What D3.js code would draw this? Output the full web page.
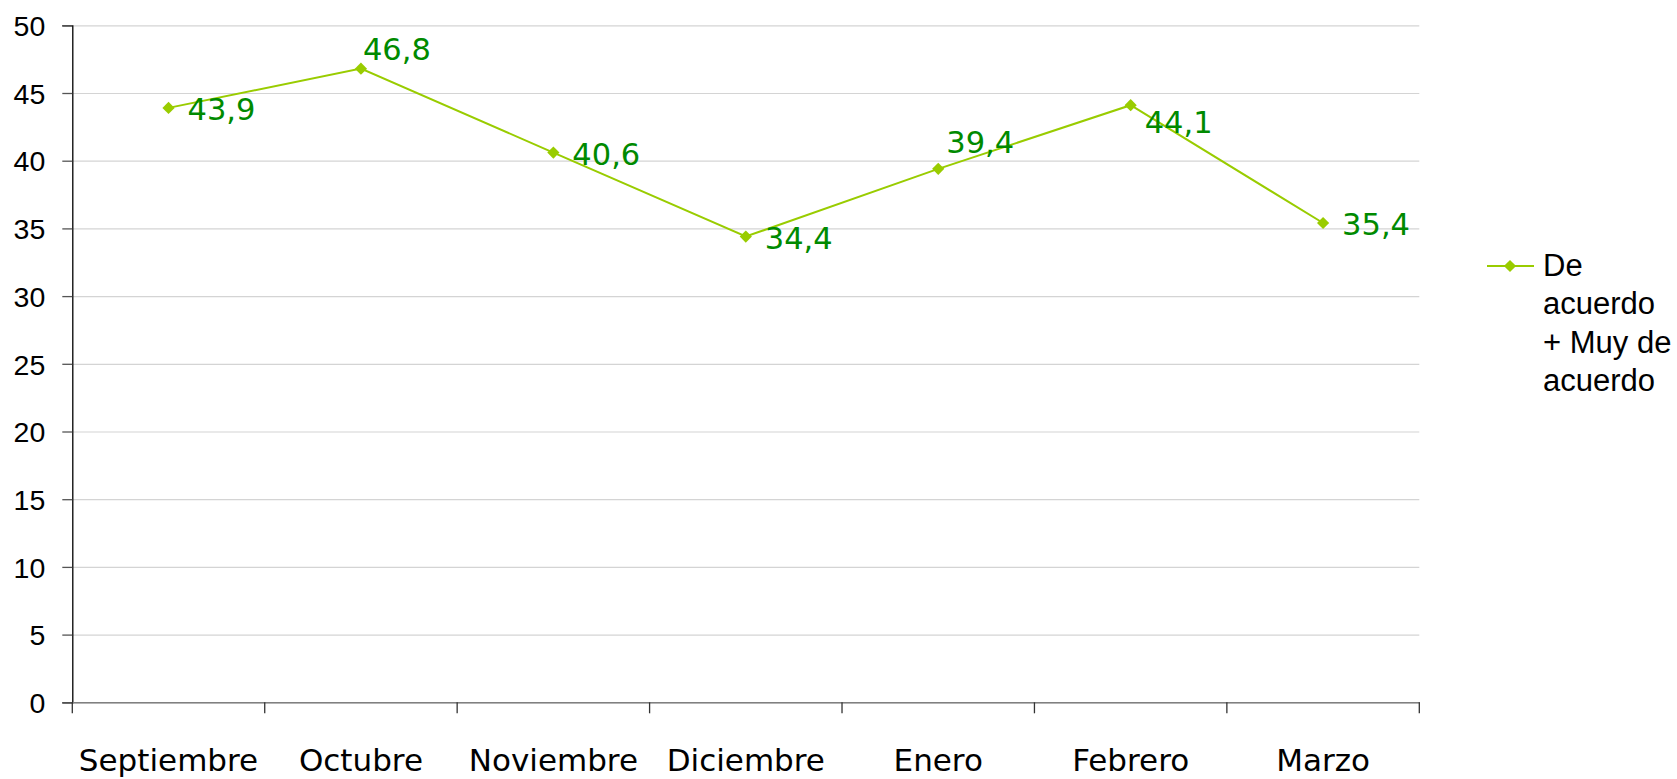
<!DOCTYPE html>
<html><head>
<meta charset="utf-8">
<title>De acuerdo + Muy de acuerdo</title>
<script src="https://d3js.org/d3.v7.min.js"></script>
<style>
  body { margin: 0; background: #fff; }
  svg text { font-family: "Liberation Sans", Arial, sans-serif; }
  svg text.wide { font-family: "DejaVu Sans", Verdana, sans-serif; }
  .gridlines line { stroke: #d4d4d4; stroke-width: 1.2; }
  .gridlines .domain { stroke: none; }
</style>
</head>
<body>
<svg id="chart" width="1677" height="779"></svg>
<script>

  // data
  const months = ["Septiembre", "Octubre", "Noviembre", "Diciembre", "Enero", "Febrero", "Marzo"];
  const values = [43.9, 46.8, 40.6, 34.4, 39.4, 44.1, 35.4];
  const yTicks = [0, 5, 10, 15, 20, 25, 30, 35, 40, 45, 50];
  const seriesName = ["De", "acuerdo", "+ Muy de", "acuerdo"];
  // where each data label sits relative to its point
  const labelPlace = ["right", "above", "right", "right", "aboveRight", "belowRight", "right"];

  const svg = d3.select("svg#chart");
  const margin = {top: 25.3, left: 72.3};
  const chartWidth = 1347;
  const chartHeight = 677;

  const lineColor = "#99cc00";
  const labelColor = "#008a00";

  let annotations = svg.append("g").attr("id", "annotations");
  let chartArea = svg.append("g").attr("id", "points")
                  .attr("transform", "translate(" + margin.left + "," + margin.top + ")");

  const xScale = d3.scaleBand().domain(months).range([0, chartWidth]);
  const yScale = d3.scaleLinear().domain([0, 50]).range([chartHeight, 0]);

  // horizontal gridlines
  let gridlines = d3.axisLeft(yScale).tickValues(yTicks).tickSize(-chartWidth).tickFormat("");
  annotations.append("g")
    .attr("class", "gridlines")
    .attr("transform", "translate(" + margin.left + "," + margin.top + ")")
    .call(gridlines);

  // Y axis
  let leftAxis = d3.axisLeft(yScale).tickValues(yTicks).tickSize(10).tickPadding(17);
  let yAxis = annotations.append("g")
    .attr("transform", "translate(" + margin.left + "," + margin.top + ")")
    .call(leftAxis);
  yAxis.select(".domain").attr("stroke", "#000").attr("stroke-width", 1.3);
  yAxis.selectAll(".tick line").attr("stroke", "#555").attr("stroke-width", 1.3);
  yAxis.selectAll("text")
    .attr("fill", "#000")
    .style("font-size", "28.5px")
    .attr("dy", "0.36em");

  // X axis
  let bottomAxis = d3.axisBottom(xScale).tickSize(0).tickPadding(0);
  let xAxis = annotations.append("g")
    .attr("transform", "translate(" + margin.left + "," + (margin.top + chartHeight) + ")")
    .call(bottomAxis);
  xAxis.select(".domain").attr("stroke", "#808080").attr("stroke-width", 1.5);
  xAxis.selectAll(".tick text")
    .attr("class", "wide")
    .attr("fill", "#000")
    .attr("y", 69)
    .attr("dy", 0)
    .style("font-size", "31px");
  // tick marks between categories
  const boundaries = d3.range(months.length + 1).map(i => i * xScale.bandwidth());
  xAxis.selectAll("line.sep")
    .data(boundaries)
    .join("line")
    .attr("class", "sep")
    .attr("x1", d => d).attr("x2", d => d)
    .attr("y1", 0).attr("y2", 11)
    .attr("stroke", "#333").attr("stroke-width", 1.3);

  // series line
  const cx = d => xScale(d.m) + xScale.bandwidth() / 2;
  const pts = months.map((m, i) => ({m: m, v: values[i], place: labelPlace[i]}));

  let line = d3.line().x(cx).y(d => yScale(d.v));
  chartArea.append("path")
    .datum(pts)
    .attr("d", line)
    .attr("fill", "none")
    .attr("stroke", lineColor)
    .attr("stroke-width", 2);

  const diamond = d3.symbol().type(d3.symbolDiamond2).size(95);
  chartArea.selectAll("path.marker")
    .data(pts)
    .join("path")
    .attr("class", "marker")
    .attr("d", diamond)
    .attr("transform", d => "translate(" + cx(d) + "," + yScale(d.v) + ")")
    .attr("fill", lineColor);

  // data labels
  const offsets = {
    right:      {dx: 19, dy: 12},
    above:      {dx: 2,  dy: -9},
    aboveRight: {dx: 8,  dy: -16},
    belowRight: {dx: 14, dy: 28}
  };
  chartArea.selectAll("text.value")
    .data(pts)
    .join("text")
    .attr("class", "value wide")
    .attr("x", d => cx(d) + offsets[d.place].dx)
    .attr("y", d => yScale(d.v) + offsets[d.place].dy)
    .attr("fill", labelColor)
    .style("font-size", "30.5px")
    .text(d => d3.format(".1f")(d.v).replace(".", ","));

  // legend
  let legend = svg.append("g").attr("transform", "translate(1487,266)");
  legend.append("line")
    .attr("x1", 0).attr("x2", 47).attr("y1", 0).attr("y2", 0)
    .attr("stroke", lineColor).attr("stroke-width", 2);
  legend.append("path")
    .attr("d", diamond)
    .attr("transform", "translate(23,0)")
    .attr("fill", lineColor);
  legend.selectAll("text")
    .data(seriesName)
    .join("text")
    .attr("x", 56)
    .attr("y", (d, i) => 10 + i * 38.3)
    .attr("fill", "#000")
    .style("font-size", "31px")
    .text(d => d);

</script>
</body>
</html>
